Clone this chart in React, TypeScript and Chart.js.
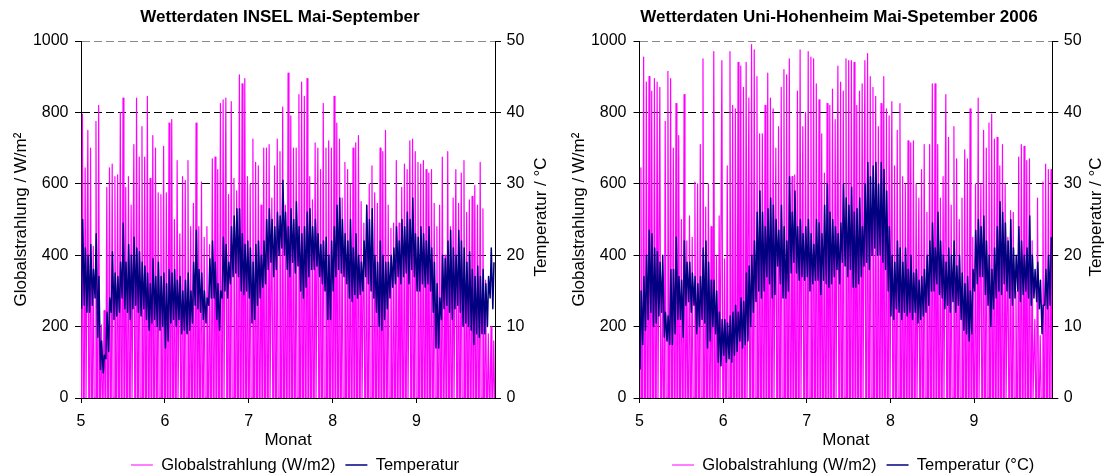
import React, { useEffect, useRef } from "react";
import { Chart, registerables } from "chart.js";

Chart.register(...registerables);

const FONT = "'Liberation Sans', Arial, Helvetica, sans-serif";

// Axis ticks
const MONTH_TICKS = [5, 6, 7, 8, 9];
const RAD_TICKS = [0, 200, 400, 600, 800, 1000];
const TEMP_TICKS = [0, 10, 20, 30, 40, 50];
const X_START = 5; // month 5 = 1 May
const DAYS_PER_UNIT = 31;
const N_DAYS = 153; // 1 May .. 30 Sep

const LEFT_AXIS_TITLE = "Globalstrahlung / W/m²";
const RIGHT_AXIS_TITLE = "Temperatur / °C";
const X_AXIS_TITLE = "Monat";

// ---------------- INSEL (left panel) ----------------
// daily maximum of global radiation (W/m2)
const INSEL_RAD_MAY = [795, 645, 750, 700, 425, 775, 820, 205, 245, 590, 645, 655, 620, 625, 800, 840, 590, 620, 540, 710, 840, 675, 760, 675, 845, 615, 735, 700, 575, 570, 705];
const INSEL_RAD_JUN = [575, 770, 780, 500, 665, 460, 620, 610, 665, 480, 545, 770, 480, 605, 450, 480, 430, 670, 675, 640, 825, 835, 840, 570, 830, 615, 580, 905, 880, 895];
const INSEL_RAD_JUL = [620, 600, 725, 660, 650, 540, 700, 700, 710, 560, 650, 725, 690, 815, 540, 910, 790, 700, 700, 850, 885, 845, 895, 620, 555, 715, 700, 640, 825, 700, 720];
const INSEL_RAD_AUG = [700, 845, 770, 725, 560, 660, 640, 600, 700, 715, 735, 550, 490, 540, 600, 650, 575, 545, 700, 690, 750, 540, 475, 490, 665, 490, 590, 655, 640, 720, 725];
const INSEL_RAD_SEP = [690, 660, 655, 665, 640, 630, 640, 545, 480, 540, 675, 400, 690, 480, 560, 640, 545, 630, 665, 520, 555, 565, 595, 540, 660, 530, 330, 180, 200, 160];
// daily max / min temperature (°C)
const INSEL_TMAX_MAY = [25, 21, 20, 21.5, 18, 23, 17, 8, 6, 12, 14, 20.5, 17.5, 17, 19, 24.5, 19, 21.5, 20, 22.5, 21, 20.5, 19, 18.5, 17.5, 16, 19.5, 17, 19, 17, 17.5];
const INSEL_TMIN_MAY = [12.5, 13, 12, 12, 13, 14, 8.5, 4, 3.5, 5.5, 6.5, 12, 11, 11.5, 12, 14, 12.5, 12, 11, 12.5, 13, 12, 11.5, 12.5, 11, 9.5, 10.5, 11, 10, 9.5, 10];
const INSEL_TMAX_JUN = [16, 18, 17.5, 18, 16.5, 17, 15, 16.5, 17.5, 15, 19, 23.5, 18, 17.5, 15, 14, 19.5, 22, 19, 16, 15, 22.5, 21.5, 19, 24, 25.5, 26.5, 26.5, 23, 21.5];
const INSEL_TMIN_JUN = [7, 8, 10.5, 11, 10, 11, 9, 9.5, 9, 9.5, 10.5, 13, 12.5, 12, 11, 10.5, 13, 14, 14, 11, 9.5, 14, 15, 14, 16, 17, 17.5, 17, 15, 14.5];
const INSEL_TMAX_JUL = [22, 21, 19, 21.5, 22, 20, 22, 25, 26.5, 25, 24, 26, 25.5, 30.5, 26, 24, 26.5, 25, 27.5, 24, 23, 24, 26, 26.5, 24, 25, 23, 21.5, 22, 22.5, 20];
const INSEL_TMIN_JUL = [15, 14, 10.5, 11, 13, 14, 15.5, 16, 18, 19, 17, 18, 20, 21, 20, 18, 17, 19, 17.5, 18.5, 15, 14, 15.5, 17, 18, 18, 18.5, 17, 16, 15, 11];
const INSEL_TMAX_AUG = [22, 24, 27, 28, 25, 23, 22, 25, 21, 23, 20, 19, 22, 27, 25, 26.5, 20, 19, 22, 20, 19, 19, 20, 21, 24, 22, 25, 24, 26, 25, 28];
const INSEL_TMIN_AUG = [11, 15, 17, 18, 17.5, 17, 16, 14, 13.5, 14.5, 14, 14.5, 15, 17, 16, 15, 14, 12, 10, 9.5, 11, 12.5, 14, 15.5, 16, 17, 16, 17, 17.5, 16, 18];
const INSEL_TMAX_SEP = [23, 22.5, 24, 23, 22, 24, 21, 19, 16, 14, 20, 19.5, 22, 23.5, 21, 20, 23.5, 22, 21, 19, 20.5, 18, 17, 18.5, 17, 18, 16, 17, 21, 19];
const INSEL_TMIN_SEP = [17, 15, 15, 16, 15.5, 16, 15, 12, 7, 7, 11, 12.5, 13, 12, 11, 12.5, 13, 12, 10, 10.5, 10, 9.5, 7.5, 9, 8.5, 9, 9, 10, 14, 12.5];

// ---------------- Uni-Hohenheim 2006 (right panel) ----------------
const HOH_RAD_MAY = [645, 955, 885, 900, 860, 895, 885, 870, 330, 775, 915, 895, 700, 825, 735, 500, 850, 440, 510, 450, 605, 600, 710, 950, 535, 600, 480, 970, 400, 510, 945];
const HOH_RAD_JUN = [390, 650, 970, 820, 810, 940, 930, 870, 940, 840, 990, 975, 900, 740, 740, 820, 910, 840, 810, 700, 760, 870, 920, 905, 950, 620, 625, 860, 975, 760];
const HOH_RAD_JUL = [800, 970, 955, 950, 880, 835, 740, 630, 825, 820, 865, 780, 930, 885, 860, 950, 945, 945, 940, 820, 860, 880, 945, 965, 900, 870, 845, 760, 825, 900, 810];
const HOH_RAD_AUG = [790, 830, 650, 750, 825, 620, 600, 720, 715, 720, 600, 560, 640, 710, 520, 710, 880, 880, 710, 560, 620, 850, 730, 540, 760, 670, 500, 560, 695, 670, 810];
const HOH_RAD_SEP = [450, 600, 840, 600, 750, 700, 770, 795, 725, 730, 650, 710, 600, 450, 525, 520, 300, 675, 710, 705, 665, 670, 440, 220, 560, 175, 605, 655, 640, 640];
const HOH_TMAX_MAY = [15, 17, 20, 23.5, 23, 21, 20.5, 19, 20, 12, 11.5, 18, 18, 22.5, 17, 16.5, 22, 19, 19, 17.5, 17, 16, 17, 21, 22, 19, 16.5, 16.5, 15, 12, 11];
const HOH_TMIN_MAY = [4, 7.5, 9.5, 11, 12, 10, 10.5, 11.5, 12, 8.5, 8, 7.5, 7.5, 9, 11, 11, 8.5, 13, 13.5, 12, 13, 9, 10, 11, 10.5, 7, 8, 10, 9, 5, 4.5];
const HOH_TMAX_JUN = [11, 10.5, 11.5, 12, 13, 12, 14, 13.5, 17.5, 18.5, 20, 22, 26, 29, 26, 24, 26.5, 28, 27, 25, 23.5, 27, 24, 22, 31, 26, 29, 24, 25, 23];
const HOH_TMIN_JUN = [6, 5, 5.5, 5, 6, 6.5, 8, 7, 7.5, 8, 10, 12, 13.5, 15, 14, 15, 17, 16, 14, 14.5, 18.5, 16, 14, 14, 15, 17.5, 19, 17.5, 16.5, 17];
const HOH_TMAX_JUL = [24, 25, 23, 21.5, 25, 24.5, 23, 27, 30, 26, 25, 24, 23, 24.5, 30, 28, 27, 29.5, 26, 26.5, 28, 24, 30, 33, 31, 32.5, 33, 30, 33, 32, 29];
const HOH_TMIN_JUL = [16.5, 17, 15, 16, 16.5, 16.5, 14.5, 16.5, 16, 15.5, 16, 17, 18, 16, 19, 18.5, 17, 18, 15.5, 15.5, 16, 17, 18.5, 19, 18, 20, 21, 20, 20, 19, 18];
const HOH_TMAX_AUG = [24, 20, 19, 22, 21, 19, 21, 18, 20, 17.5, 18, 16.5, 17, 18, 20, 22, 24.5, 21, 26, 22, 20, 19, 21, 20, 22, 18.5, 20, 17.5, 16, 17, 15];
const HOH_TMIN_AUG = [15, 11.5, 11, 12.5, 12, 11, 12, 11.5, 12, 11, 12, 10.5, 11, 11.5, 12, 13, 15, 15, 16, 14.5, 14, 12.5, 13, 12, 13.5, 12, 13, 11, 9.5, 9, 8];
const HOH_TMAX_SEP = [18, 23.5, 25, 24, 25.5, 22, 20, 18, 21, 24, 27.5, 26, 24.5, 22, 25, 21, 20, 24, 22, 20, 21, 25.5, 20, 18, 19, 16.5, 13, 18, 20, 22.5];
const HOH_TMIN_SEP = [9, 15, 16, 17, 17, 14.5, 13, 10, 12.5, 14, 15, 14.5, 16, 15, 14, 13, 14, 15, 13.5, 14.5, 15, 14, 13, 14, 13.5, 12.5, 9, 13, 12.5, 13];

const INSEL_RAD = [...INSEL_RAD_MAY, ...INSEL_RAD_JUN, ...INSEL_RAD_JUL, ...INSEL_RAD_AUG, ...INSEL_RAD_SEP];
const INSEL_TMAX = [...INSEL_TMAX_MAY, ...INSEL_TMAX_JUN, ...INSEL_TMAX_JUL, ...INSEL_TMAX_AUG, ...INSEL_TMAX_SEP];
const INSEL_TMIN = [...INSEL_TMIN_MAY, ...INSEL_TMIN_JUN, ...INSEL_TMIN_JUL, ...INSEL_TMIN_AUG, ...INSEL_TMIN_SEP];
const HOH_RAD = [...HOH_RAD_MAY, ...HOH_RAD_JUN, ...HOH_RAD_JUL, ...HOH_RAD_AUG, ...HOH_RAD_SEP];
const HOH_TMAX = [...HOH_TMAX_MAY, ...HOH_TMAX_JUN, ...HOH_TMAX_JUL, ...HOH_TMAX_AUG, ...HOH_TMAX_SEP];
const HOH_TMIN = [...HOH_TMIN_MAY, ...HOH_TMIN_JUN, ...HOH_TMIN_JUL, ...HOH_TMIN_AUG, ...HOH_TMIN_SEP];

// time of day (fraction): sunrise / noon / sunset and temperature min / max
const SUNRISE = 0.2;
const NOON = 0.53;
const SUNSET = 0.86;
const T_MIN_TIME = 0.2;
const T_MAX_TIME = 0.62;
const dayX = (d: number, frac: number) => X_START + (d + frac) / DAYS_PER_UNIT;

function radiationPoints(peaks: number[]) {
  const pts: { x: number; y: number }[] = [];
  peaks.forEach((p, d) => {
    pts.push({ x: dayX(d, SUNRISE), y: 0 });
    pts.push({ x: dayX(d, NOON), y: p });
    pts.push({ x: dayX(d, SUNSET), y: 0 });
  });
  return pts;
}

function temperaturePoints(mins: number[], maxs: number[]) {
  const pts: { x: number; y: number }[] = [];
  mins.forEach((mn, d) => {
    pts.push({ x: dayX(d, T_MIN_TIME), y: mn });
    pts.push({ x: dayX(d, T_MAX_TIME), y: maxs[d] });
  });
  return pts;
}

const CANVAS_W = 553;
const CANVAS_H = 475;
const PLOT_BOTTOM = 398;

function overlayPlugin(cfg: any) {
  return {
    id: "overlay",
    afterLayout(chart: any) {
      const t = chart.titleBlock;
      if (t) {
        t.left += cfg.titleDx;
        t.right += cfg.titleDx;
      }
      const l = chart.legend;
      if (l) {
        l.left += cfg.legendDx;
        l.right += cfg.legendDx;
        l.top += cfg.legendDy;
        l.bottom += cfg.legendDy;
      }
    },
    afterDraw(chart: any) {
      const ctx = chart.ctx;
      const a = chart.chartArea;
      ctx.save();
      ctx.fillStyle = "#000";
      ctx.font = `17px ${FONT}`;
      ctx.textAlign = "center";
      ctx.textBaseline = "middle";
      ctx.fillText(X_AXIS_TITLE, (a.left + a.right) / 2, 440);
      ctx.save();
      ctx.translate(cfg.leftTitleX, (a.top + a.bottom) / 2);
      ctx.rotate(-Math.PI / 2);
      ctx.fillText(LEFT_AXIS_TITLE, 0, 0);
      ctx.restore();
      ctx.save();
      ctx.translate(cfg.rightTitleX, 217);
      ctx.rotate(-Math.PI / 2);
      ctx.fillText(RIGHT_AXIS_TITLE, 0, 0);
      ctx.restore();
      ctx.restore();
    },
  };
}

function WeatherChart({ cfg }: { cfg: any }) {
  const ref = useRef<HTMLCanvasElement | null>(null);
  useEffect(() => {
    if (!ref.current) return;
    const tickFont = { family: FONT, size: 16 };
    const chart = new Chart(ref.current, {
      type: "line",
      data: {
        datasets: [
          {
            label: "Globalstrahlung (W/m2)",
            data: radiationPoints(cfg.rad),
            borderColor: "#FF00FF",
            backgroundColor: "#FF00FF",
            borderWidth: 1.2,
            borderJoinStyle: "round",
            pointRadius: 0,
            tension: 0,
            yAxisID: "yRad",
            order: 1,
          },
          {
            label: cfg.tempLabel,
            data: temperaturePoints(cfg.tmin, cfg.tmax),
            borderColor: "#000080",
            backgroundColor: "#000080",
            borderWidth: 1.5,
            borderJoinStyle: "round",
            pointRadius: 0,
            tension: 0,
            yAxisID: "yTemp",
            order: 0,
          },
        ],
      } as any,
      options: {
        responsive: false,
        animation: false,
        devicePixelRatio: 1,
        events: [],
        parsing: false,
        normalized: true,
        layout: { padding: 0 },
        plugins: {
          tooltip: { enabled: false },
          title: {
            display: true,
            text: cfg.title,
            color: "#000",
            font: { family: FONT, size: 17, weight: "bold" },
            padding: { top: 7.5, bottom: 13.1 },
          },
          legend: {
            display: true,
            position: "bottom",
            labels: {
              usePointStyle: true,
              pointStyle: "line",
              pointStyleWidth: 22,
              color: "#000",
              font: { family: FONT, size: 16.5 },
              padding: 10,
              sort: (a: any, b: any) => a.datasetIndex - b.datasetIndex,
            },
          },
        },
        scales: {
          x: {
            type: "linear",
            min: X_START,
            max: X_START + N_DAYS / DAYS_PER_UNIT,
            afterBuildTicks: (s: any) => {
              s.ticks = MONTH_TICKS.map((v) => ({ value: v }));
            },
            afterFit: (s: any) => {
              const lh = s.chart.legend ? s.chart.legend.height : 36.5;
              s.height = CANVAS_H - PLOT_BOTTOM - lh;
            },
            grid: {
              drawOnChartArea: false,
              drawTicks: true,
              tickLength: 5,
              color: "#000",
              tickColor: "#000",
            },
            border: { display: true, color: "#000", width: 1 },
            ticks: {
              font: tickFont,
              color: "#000",
              padding: 8.5,
              maxRotation: 0,
              autoSkip: false,
              callback: (v: any) => String(v),
            },
          },
          yRad: {
            type: "linear",
            position: "left",
            min: 0,
            max: 1000,
            afterBuildTicks: (s: any) => {
              s.ticks = RAD_TICKS.map((v) => ({ value: v }));
            },
            afterFit: (s: any) => {
              s.width = cfg.plotLeft;
            },
            grid: {
              drawOnChartArea: true,
              drawTicks: true,
              tickLength: 6,
              lineWidth: 1,
              color: (c: any) => (c.tick && c.tick.value === 1000 ? "#8a8a8a" : "#000"),
              tickColor: "#000",
              tickBorderDash: [],
            },
            border: { display: true, color: "#000", width: 1, dash: [8, 4] },
            ticks: {
              font: tickFont,
              color: "#000",
              padding: cfg.leftTickPad,
              callback: (v: any) => String(v),
            },
          },
          yTemp: {
            type: "linear",
            position: "right",
            min: 0,
            max: 50,
            afterBuildTicks: (s: any) => {
              s.ticks = TEMP_TICKS.map((v) => ({ value: v }));
            },
            afterFit: (s: any) => {
              s.width = cfg.rightAxisWidth;
            },
            grid: {
              drawOnChartArea: false,
              drawTicks: true,
              tickLength: 6,
              color: "#000",
              tickColor: "#000",
            },
            border: { display: true, color: "#000", width: 1 },
            ticks: {
              font: tickFont,
              color: "#000",
              padding: cfg.rightTickPad,
              callback: (v: any) => String(v),
            },
          },
        },
      } as any,
      plugins: [overlayPlugin(cfg)],
    });
    return () => chart.destroy();
  }, [cfg]);
  return (
    <canvas
      ref={ref}
      width={CANVAS_W}
      height={CANVAS_H}
      style={{ position: "absolute", left: cfg.left, top: 0, width: CANVAS_W, height: CANVAS_H }}
    />
  );
}

const LEFT_CFG = {
  left: 0,
  title: "Wetterdaten INSEL Mai-September",
  tempLabel: "Temperatur",
  rad: INSEL_RAD,
  tmin: INSEL_TMIN,
  tmax: INSEL_TMAX,
  plotLeft: 81,
  rightAxisWidth: 58,
  leftTickPad: 6.5,
  rightTickPad: 5.5,
  titleDx: 3.5,
  legendDx: 18.5,
  legendDy: 8.25,
  leftTitleX: 21,
  rightTitleX: 541,
};

const RIGHT_CFG = {
  left: 553,
  title: "Wetterdaten Uni-Hohenheim Mai-Spetember 2006",
  tempLabel: "Temperatur (°C)",
  rad: HOH_RAD,
  tmin: HOH_TMIN,
  tmax: HOH_TMAX,
  plotLeft: 86.5,
  rightAxisWidth: 53.7,
  leftTickPad: 7,
  rightTickPad: 5.5,
  titleDx: 9.5,
  legendDx: 23.7,
  legendDy: 8.25,
  leftTitleX: 26,
  rightTitleX: 543,
};

export default function App() {
  return (
    <div
      style={{
        position: "absolute",
        left: 0,
        top: 0,
        width: 1106,
        height: 475,
        background: "#fff",
        overflow: "hidden",
      }}
    >
      <WeatherChart cfg={LEFT_CFG} />
      <WeatherChart cfg={RIGHT_CFG} />
    </div>
  );
}
